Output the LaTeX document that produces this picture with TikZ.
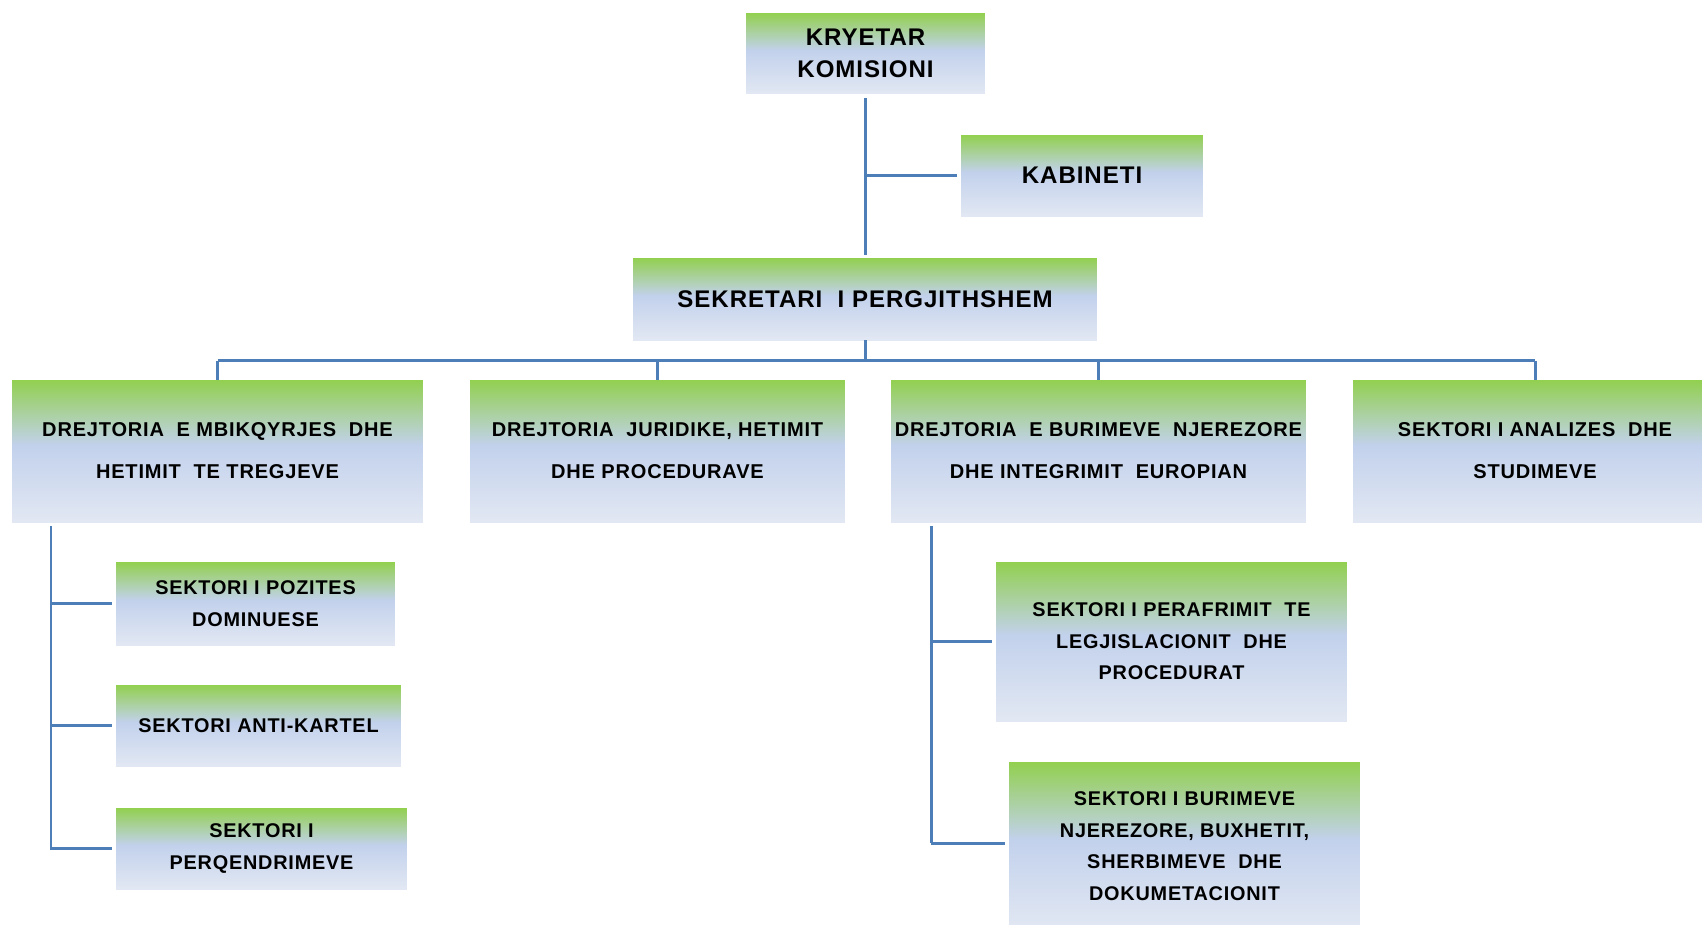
\documentclass[tikz,border=0pt]{standalone}
\usepackage{fontspec}
\setmainfont{Liberation Sans}
\newfontfamily\orgfont[LetterSpace=4]{Liberation Sans}
\definecolor{orgtop}{RGB}{146,208,80}
\definecolor{orgmid}{RGB}{194,209,236}
\definecolor{orgbot}{RGB}{226,232,243}
\definecolor{orgline}{RGB}{78,126,184}
\pgfdeclareverticalshading{orgfill}{100bp}{color(0bp)=(orgbot); color(25bp)=(orgbot); color(52bp)=(orgmid); color(75bp)=(orgtop); color(100bp)=(orgtop)}

\begin{document}
\begin{tikzpicture}[x=0.02cm,y=-0.02cm,
    unit/.style={shading=orgfill,inner sep=0pt,align=center},
    headbox/.style={unit,font=\orgfont\bfseries\fontsize{13.7}{18}\selectfont},
    dirbox/.style={unit,font=\orgfont\bfseries\fontsize{11.4}{23.9}\selectfont},
    secbox/.style={unit,font=\orgfont\bfseries\fontsize{11.3}{18}\selectfont},
    link/.style={draw=orgline,line width=1.7pt}]
    \useasboundingbox (0,0) rectangle (1702,924);
    % top
    \node[headbox,minimum width=4.78cm,minimum height=1.62cm] (kryetar) at (865.5,53.5) {KRYETAR\\KOMISIONI};
    \node[headbox,minimum width=4.84cm,minimum height=1.62cm] (kabineti) at (1082,175.5) {KABINETI};
    \node[headbox,minimum width=9.28cm,minimum height=1.64cm] (sekretari) at (865,299) {SEKRETARI\ \ I PERGJITHSHEM};
    % directorates
    \node[dirbox,minimum width=8.22cm,minimum height=2.84cm] (d1) at (217.5,451) {DREJTORIA\ \ E MBIKQYRJES\ \ DHE\\HETIMIT\ \ TE TREGJEVE};
    \node[dirbox,minimum width=7.5cm,minimum height=2.84cm] (d2) at (657.5,451) {DREJTORIA\ \ JURIDIKE, HETIMIT\\DHE PROCEDURAVE};
    \node[dirbox,minimum width=8.3cm,minimum height=2.84cm] (d3) at (1098.5,451) {DREJTORIA\ \ E BURIMEVE\ \ NJEREZORE\\DHE INTEGRIMIT\ \ EUROPIAN};
    \node[dirbox,minimum width=7.28cm,minimum height=2.84cm] (d4) at (1535,451) {SEKTORI I ANALIZES\ \ DHE\\STUDIMEVE};
    % sectors
    \node[secbox,minimum width=5.58cm,minimum height=1.66cm] (s1) at (255.5,603.5) {SEKTORI I POZITES\\DOMINUESE};
    \node[secbox,minimum width=5.7cm,minimum height=1.62cm] (s2) at (258.5,725.5) {SEKTORI ANTI-KARTEL};
    \node[secbox,minimum width=5.82cm,minimum height=1.62cm] (s3) at (261.5,848.5) {SEKTORI I\\PERQENDRIMEVE};
    \node[secbox,minimum width=7.02cm,minimum height=3.18cm] (s4) at (1171.5,641.5) {SEKTORI I PERAFRIMIT\ \ TE\\LEGJISLACIONIT\ \ DHE\\PROCEDURAT};
    \node[secbox,minimum width=7.02cm,minimum height=3.36cm] (s5) at (1184.5,846) {SEKTORI I BURIMEVE\\NJEREZORE, BUXHETIT,\\SHERBIMEVE\ \ DHE\\DOKUMETACIONIT};
    % connectors
    \coordinate (bus) at (865,360.5);
    \coordinate (lspine) at (51,526);
    \coordinate (rspine) at (931,526);
    \coordinate (rjoin) at (931,843);
    \draw[link,shorten <=2pt,shorten >=1.5pt] (kryetar.south) -- (kryetar.south |- sekretari.north);
    \draw[link,shorten >=2pt] (kryetar.south |- kabineti.west) -- (kabineti.west);
    \draw[link] (sekretari.south) -- (bus);
    \draw[link] (d1.north |- bus) -- (d4.north |- bus);
    \foreach \d in {d1,d2,d3,d4}
        \draw[link] (\d.north |- bus) -- (\d.north);
    \draw[link,shorten >=2pt] (lspine) |- (s3.west);
    \draw[link,shorten >=2pt] (lspine |- s1.west) -- (s1.west);
    \draw[link,shorten >=2pt] (lspine |- s2.west) -- (s2.west);
    \draw[link] (rspine) -- (rjoin);
    \draw[link,shorten >=2pt] (rjoin) -- (rjoin -| s5.west);
    \draw[link,shorten >=2pt] (rspine |- s4.west) -- (s4.west);
\end{tikzpicture}
\end{document}
